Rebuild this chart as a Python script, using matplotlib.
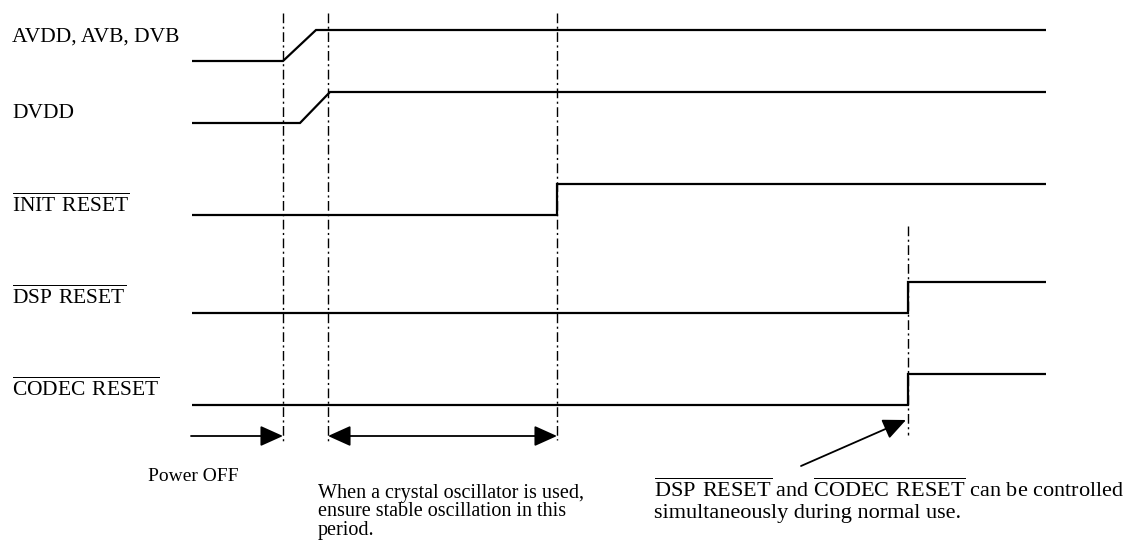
import matplotlib
matplotlib.use("Agg")
from matplotlib import pyplot as plt
from matplotlib.patches import FancyArrowPatch

plt.rcParams["font.family"] = ["Liberation Serif", "DejaVu Serif"]
plt.rcParams["mathtext.fontset"] = "custom"
plt.rcParams["mathtext.rm"] = "Liberation Serif"

# Signal names (row labels)
signal_labels = [
    "AVDD, AVB, DVB",
    "DVDD",
    r"$\overline{\mathrm{INIT\ RESET}}$",
    r"$\overline{\mathrm{DSP\ RESET}}$",
    r"$\overline{\mathrm{CODEC\ RESET}}$",
]

# Waveforms: edge times and logic levels (0 = low, 1 = high)
avdd_t = [192, 283, 316, 1046]
avdd_lvl = [0, 0, 1, 1]
dvdd_t = [192, 300, 330, 1046]
dvdd_lvl = [0, 0, 1, 1]
init_t = [192, 557, 557, 1046]
init_lvl = [0, 0, 1, 1]
dsp_t = [192, 908, 908, 1046]
dsp_lvl = [0, 0, 1, 1]
codec_t = [192, 908, 908, 1046]
codec_lvl = [0, 0, 1, 1]

# Timing markers (dash-dot verticals)
marker_t = [283, 328, 557, 908]

# notes
power_off_note = "Power OFF"
crystal_note = "When a crystal oscillator is used,\nensure stable oscillation in this\nperiod."
reset_note_1 = r"$\overline{\mathrm{DSP\ RESET}}$ and $\overline{\mathrm{CODEC\ RESET}}$ can be controlled"
reset_note_2 = "simultaneously during normal use."

waves = [(avdd_t, avdd_lvl), (dvdd_t, dvdd_lvl), (init_t, init_lvl),
         (dsp_t, dsp_lvl), (codec_t, codec_lvl)]

# layout (pixel space, y down)
row_low = [61, 123, 215, 313, 405]
amp = 31
label_base = [42, 118, 212, 304, 396]
marker_span = [(13, 442), (13, 442), (13, 440), (226, 435)]

fig = plt.figure(figsize=(11.38, 5.48), dpi=100)
ax = fig.add_axes([0, 0, 1, 1])
ax.set_xlim(0, 1138)
ax.set_ylim(548, 0)
ax.axis("off")

for i, (t, lvl) in enumerate(waves):
    ys = [row_low[i] - amp * v for v in lvl]
    ax.plot(t, ys, color="black", lw=1.6, solid_joinstyle="miter",
            solid_capstyle="butt")
    ax.text(12, label_base[i], signal_labels[i], fontsize=15.5,
            ha="left", va="baseline")

for x, (y0, y1) in zip(marker_t, marker_span):
    ax.plot([x, x], [y0, y1], color="black", lw=1.0,
            linestyle=(0, (7, 2.5, 1.5, 2.5)))

# period arrows
arr_y = 436
a1 = FancyArrowPatch((191, arr_y), (marker_t[0], arr_y),
                     arrowstyle="-|>,head_length=1.0,head_width=0.45",
                     mutation_scale=14, color="black", lw=1.3,
                     shrinkA=0, shrinkB=0)
ax.add_patch(a1)
a2 = FancyArrowPatch((marker_t[1], arr_y), (marker_t[2], arr_y),
                     arrowstyle="<|-|>,head_length=1.0,head_width=0.45",
                     mutation_scale=14, color="black", lw=1.3,
                     shrinkA=0, shrinkB=0)
ax.add_patch(a2)

# annotation arrow
a3 = FancyArrowPatch((801, 466), (906, 420),
                     arrowstyle="-|>,head_length=1.0,head_width=0.45",
                     mutation_scale=14, color="black", lw=1.3,
                     shrinkA=0, shrinkB=0)
ax.add_patch(a3)

ax.text(148, 481, power_off_note, fontsize=14, ha="left", va="baseline")
ax.text(318, 535, crystal_note, fontsize=14.5, ha="left", va="baseline",
        linespacing=0.98)
ax.text(654, 497, reset_note_1, fontsize=16, ha="left", va="baseline")
ax.text(654, 518, reset_note_2, fontsize=16, ha="left", va="baseline")

plt.savefig("out.png", dpi=100)
